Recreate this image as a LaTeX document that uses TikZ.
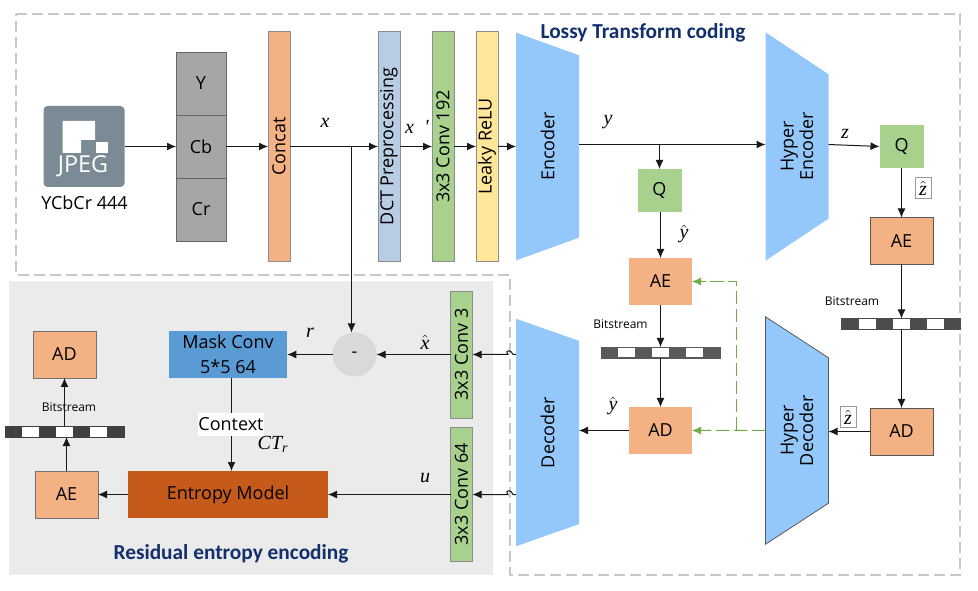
\documentclass[tikz,border=0pt]{standalone}
\usepackage{amsmath}
\usepackage{fontspec}
\setmainfont{Open Sans}
\newfontfamily\titlefont{Carlito}
\newfontfamily\varfont{Liberation Serif}
\usetikzlibrary{arrows.meta,positioning,shapes.geometric,calc}
\def\px{0.75pt}
\definecolor{orangebox}{HTML}{F4B183}
\definecolor{greenbox}{HTML}{A9D18E}
\definecolor{bluebox}{HTML}{B8CCE4}
\definecolor{yellowbox}{HTML}{FFE699}
\definecolor{trapblue}{HTML}{94C8FA}
\definecolor{maskblue}{HTML}{5B9BD5}
\definecolor{entropy}{HTML}{C55A1B}
\definecolor{panel}{HTML}{EBEBEB}
\definecolor{dashgray}{HTML}{C8C8C8}
\definecolor{jpegblue}{HTML}{7A8B95}
\definecolor{titleblue}{HTML}{12306B}
\definecolor{feedback}{HTML}{70AD47}
\newcommand{\vart}[1]{\text{\varfont\itshape #1}}
\tikzset{
    base/.style={inner sep=0pt,outer sep=0pt,font=\fontsize{13.5}{19}\selectfont,align=center},
    vbar/.style={base,draw=black!45,minimum width=22*\px},
    tallbar/.style={vbar,minimum height=230*\px},
    codec/.style={base,fill=orangebox,minimum width=63*\px,minimum height=47*\px},
    quant/.style={base,fill=greenbox,minimum width=44*\px,minimum height=43*\px},
    ycc/.style={base,fill=black!35,draw=black!60,minimum width=50*\px,minimum height=63*\px},
    trap/.style={base,trapezium,trapezium stretches=true,trapezium angle=58.2,shape border rotate=180,
        rotate=90,fill=trapblue,minimum width=229*\px,minimum height=63*\px,
        font=\fontsize{13.5}{14.5}\selectfont},
    arrow/.style={-{Latex[length=9*\px,width=8*\px]},line width=0.75pt,draw=black!90},
    greenarrow/.style={-{Latex[length=9*\px,width=8*\px]},line width=0.75pt,draw=feedback,dash pattern=on 10pt off 3.5pt},
    var/.style={inner sep=0pt,font=\fontsize{15}{17}\selectfont},
    framed/.style={var,draw=black!40,fill=white,line width=0.4pt,minimum width=16*\px,minimum height=21*\px},
    bitlabel/.style={inner sep=0pt,font=\fontsize{9}{11}\selectfont},
    heading/.style={inner sep=0pt,text=titleblue,font=\titlefont\bfseries\fontsize{16}{18}\selectfont},
}
\newcommand{\bitstreambar}[4]{
    \node[base,minimum width=119*\px,minimum height=11*\px,fill=#4] (#1) at (#2,#3) {};
    \foreach \n in {1,3,5}{
        \fill[white] ($(#1.west)+(\n*17,-5)$) rectangle ($(#1.west)+(\n*17+17,5)$);
    }
    \draw[#4,line width=0.5pt] (#1.south west) rectangle (#1.north east);
}
\begin{document}
\begin{tikzpicture}[x=0.75pt,y=-0.75pt]
    \useasboundingbox (0,0) rectangle (978,591);
    \fill[panel] (9,281) rectangle (493,575);
    \draw[dashgray,line width=1pt,dash pattern=on 8pt off 4pt]
        (16,14) -- (960,14) -- (960,575) -- (510,575) -- (510,275) -- (16,275) -- cycle;

    \node[base,fill=jpegblue,rounded corners=3pt,minimum size=81*\px] (jpeg) at (84,146.5) {};
    \fill[white] (62.5,121) -- (95,121) -- (95,140) -- (81,140) -- (81,153) -- (62.5,153) -- cycle;
    \fill[white] (96,142) rectangle (108,153);
    \node[inner sep=0pt,text=white,font=\fontsize{17.5}{20}\selectfont] (jpegtext) at (83,166) {JPEG};
    \node[base] (jpeglabel) at (84.5,202.5) {YCbCr 444};

    \node[ycc] (cb) at (201,146.5) {Cb};
    \node[ycc,above=0pt of cb] (y) {Y};
    \node[ycc,below=0pt of cb] (cr) {Cr};

    \node[tallbar,fill=orangebox] (concat) at (279,146.5) {\rotatebox{90}{Concat}};
    \node[tallbar,fill=bluebox] (dct) at (389,146.5) {\rotatebox{90}{DCT Preprocessing}};
    \node[tallbar,fill=greenbox] (conv192) at (443,146.5) {\rotatebox{90}{3x3 Conv 192}};
    \node[tallbar,fill=yellowbox] (relu) at (487,146.5) {\rotatebox{90}{Leaky ReLU}};

    \node[trap] (encoder) at (547.5,146.5) {Encoder};
    \node[trap] (hyperenc) at (797,146.5) {Hyper\\Encoder};
    \node[trap] (decoder) at (547.5,432.5) {Decoder};
    \node[trap,draw=black!65,line width=0.6pt] (hyperdec) at (797,430.5) {Hyper\\Decoder};

    \node[quant] (qy) at (659.5,190.5) {Q};
    \node[quant] (qz) at (901.5,146.5) {Q};
    \node[codec] (aey) at (660.5,281.5) {AE};
    \node[codec,draw=black!65] (aez) at (901.5,241) {AE};
    \node[codec] (ady) at (660.5,430.5) {AD};
    \node[codec,draw=black!65] (adz) at (901.5,431.5) {AD};
    \node[codec,draw=black!55] (adr) at (64.5,354.5) {AD};
    \node[codec,draw=black!55] (aer) at (66.5,494.5) {AE};

    \bitstreambar{bity}{660.5}{352.5}{black!65}
    \bitstreambar{bitz}{901}{324}{black!70}
    \bitstreambar{bitr}{64.5}{431.5}{black!75}
    \node[bitlabel] (bity label) at (620.5,324) {Bitstream};
    \node[bitlabel] (bitz label) at (852,301) {Bitstream};
    \node[bitlabel] (bitr label) at (69,407.5) {Bitstream};

    \node[base,fill=maskblue,minimum width=118.5*\px,minimum height=46.5*\px] (mask) at (228,354.5) {Mask Conv\\5*5 64};
    \node[base,circle,fill=black!15,minimum size=44*\px] (minus) at (354.5,354.5) {-};
    \node[base,fill=entropy,minimum width=200*\px,minimum height=47*\px] (model) at (228,494.5) {Entropy Model};
    \node[vbar,fill=greenbox,minimum height=127*\px] (conv3) at (461.5,354.5) {\rotatebox{90}{3x3 Conv 3}};
    \node[vbar,fill=greenbox,minimum height=134*\px] (conv64) at (461.5,494.5) {\rotatebox{90}{3x3 Conv 64}};

    \coordinate (xsplit) at (351.5,146.5);
    \coordinate (ysplit) at (659.5,144.5);
    \coordinate (ctxline) at (231.5,424.5);
    \coordinate (fbsplit) at (736.5,430.5);
    \coordinate (fbcorner) at (736.5,281.5);

    \draw[arrow] (jpeg.east) -- (cb.west);
    \draw[arrow] (cb.east) -- (concat.west |- cb);
    \draw[arrow] (concat.east) -- (dct.west);
    \draw[arrow] (dct.east) -- (conv192.west);
    \draw[arrow] (conv192.east) -- (relu.west);
    \draw[arrow] (relu.east) -- (encoder.north);
    \draw[arrow] (xsplit) -- (xsplit |- minus.north);
    \draw[arrow] (encoder.south |- ysplit) -- (hyperenc.north |- ysplit);
    \draw[arrow] (ysplit) -- (qy.north);
    \draw[arrow] (qy.south -| aey) -- (aey.north);
    \draw[arrow] (aey.south) -- (bity.north -| aey);
    \draw[arrow] (bity.south -| aey) -- (ady.north);
    \draw[arrow] (ady.west) -- (decoder.south |- ady);
    \draw[arrow] (hyperenc.south |- ysplit) -- (qz.west);
    \draw[arrow] (qz.south) -- (aez.north);
    \draw[arrow] (aez.south) -- (aez.south |- bitz.north);
    \draw[arrow] (aez.south |- bitz.south) -- (adz.north);
    \draw[arrow] (adz.west) -- (hyperdec.south |- adz);
    \draw[arrow] (decoder.north |- conv3) -- ++(-3,0) .. controls ++(-1,-5) and ++(-4,-5) .. ++(-5,0) -- (conv3.east);
    \draw[arrow] (decoder.north |- conv64) -- ++(-3,0) .. controls ++(-1,-5) and ++(-4,-5) .. ++(-5,0) -- (conv64.east);
    \draw[arrow] (conv3.west) -- (minus.east);
    \draw[arrow] (minus.west) -- (mask.east);
    \draw[arrow] (conv64.west) -- (model.east);
    \draw[arrow] (ctxline |- mask.south) -- (ctxline |- model.north);
    \draw[arrow] (model.west) -- (aer.east);
    \draw[arrow] (aer.north) -- (aer.north |- bitr.south);
    \draw[arrow] (bitr.north) -- (adr.south);
    \draw[greenarrow] (hyperdec.north) -- (ady.east);
    \draw[greenarrow] (fbsplit) -- (fbcorner) -- (aey.east);

    \node[base,fill=white,minimum width=66*\px,minimum height=23*\px] (context) at (231,424.5) {Context};

    \node[var] (x label) at (325,123) {$\vart{x}$};
    \node[var] (xp label) at (417,127) {$\vart{x}\ \ \vart{'}$};
    \node[var] (y label) at (608,122) {$\vart{y}$};
    \node[var] (z label) at (845,134) {$\vart{z}$};
    \node[var] (yhat label) at (684,234) {$\hat{\vart{y}}$};
    \node[var] (yhat2 label) at (613,406) {$\hat{\vart{y}}$};
    \node[framed] (zhat label) at (923,188) {$\hat{\vart{z}}$};
    \node[framed] (zhat2 label) at (848,417) {$\hat{\vart{z}}$};
    \node[var] (r label) at (310,333) {$\vart{r}$};
    \node[var] (xhat label) at (425,342) {$\hat{\vart{x}}$};
    \node[var] (u label) at (425,478) {$\vart{u}$};
    \node[var] (ctr label) at (273,444) {$\vart{CT}_{\vart{r}}$};

    \node[heading] (lossy) at (643,33) {Lossy Transform coding};
    \node[heading] (residual) at (231,554) {Residual entropy encoding};
\end{tikzpicture}
\end{document}
